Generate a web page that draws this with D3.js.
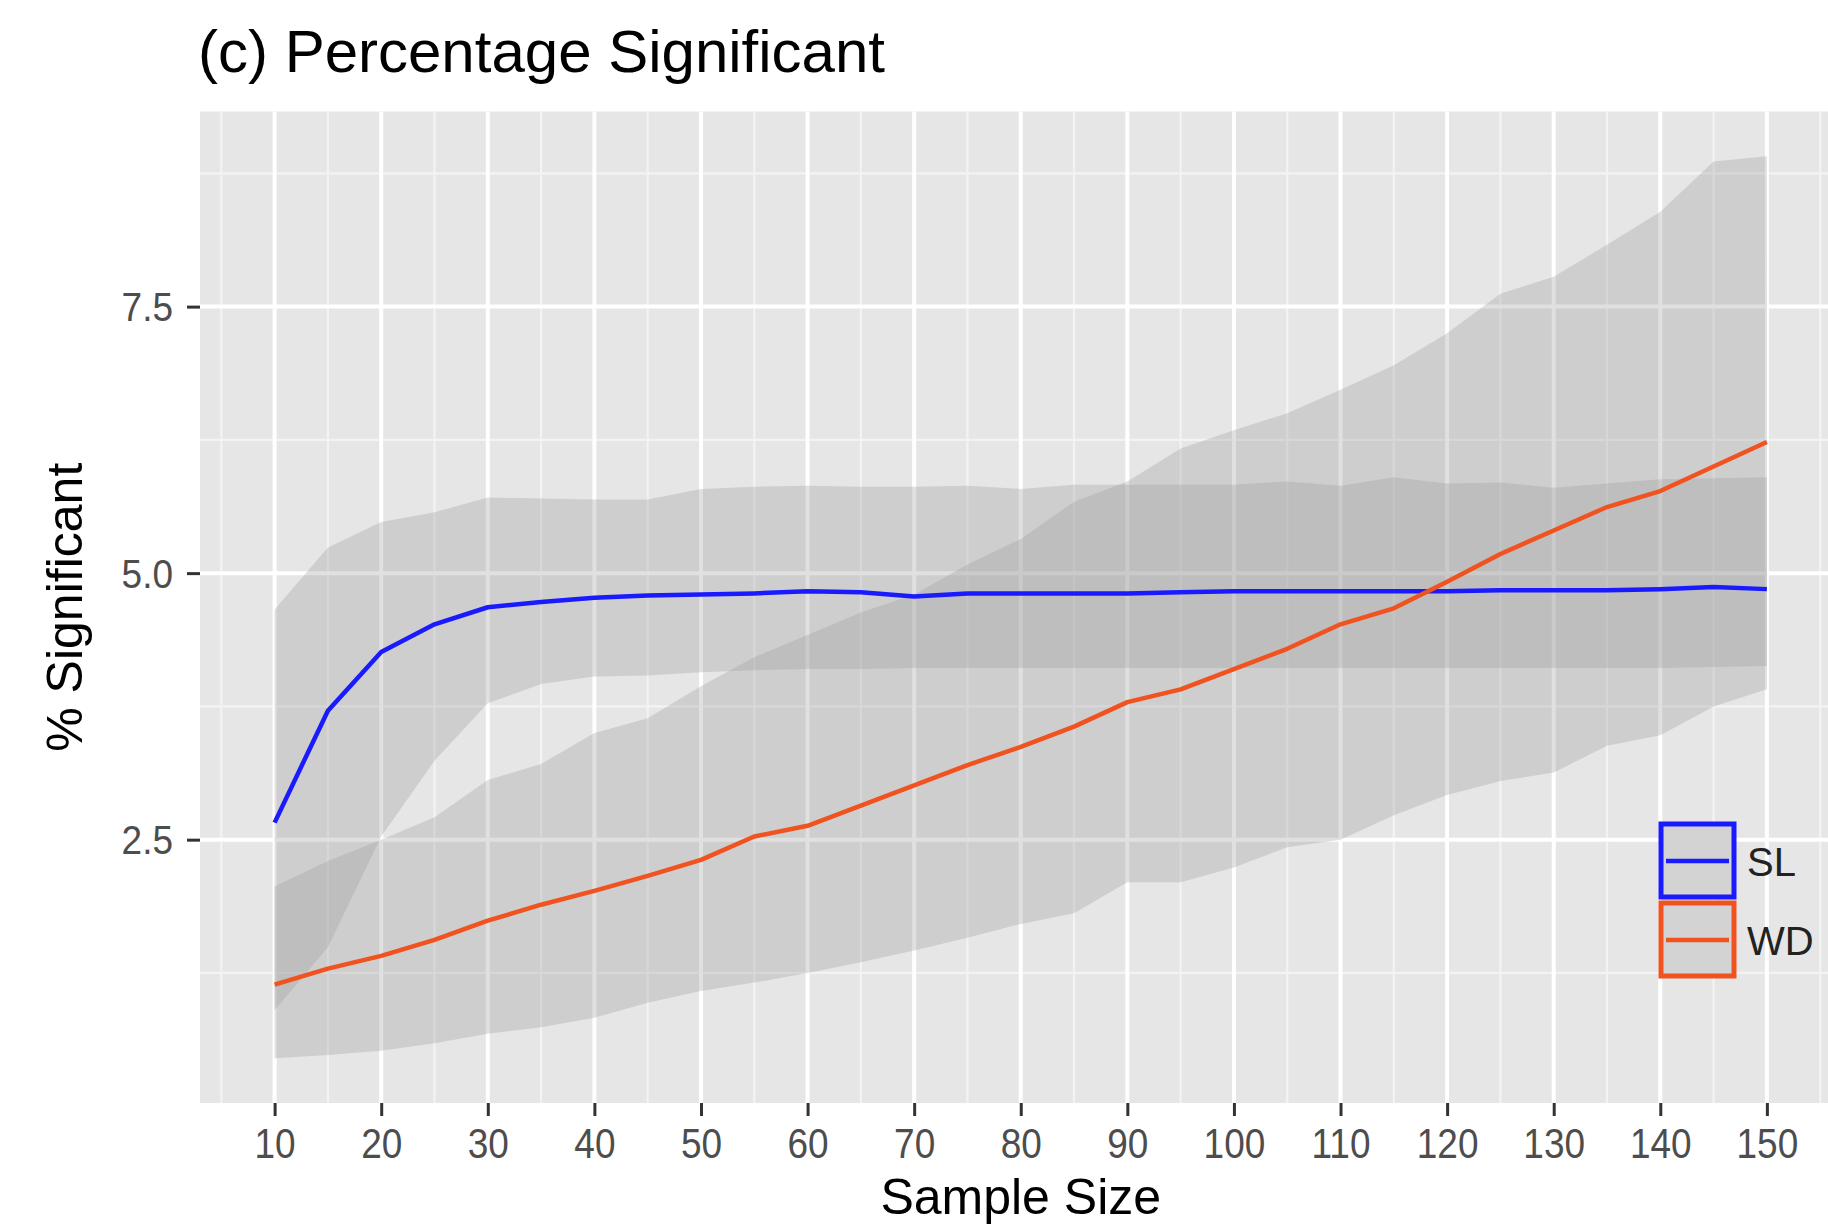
<!DOCTYPE html>
<html>
<head>
<meta charset="utf-8">
<script src="https://cdn.jsdelivr.net/npm/d3@7"></script>
<style>
  body { margin: 0; background: #fff; }
  svg { display: block; font-family: "Liberation Sans", Arial, Helvetica, sans-serif; }
</style>
</head>
<body>
<svg id="chart" width="1828" height="1228"></svg>
<script>
// sample sizes on the x axis
const sampleSize = [10, 15, 20, 25, 30, 35, 40, 45, 50, 55, 60, 65, 70, 75, 80,
  85, 90, 95, 100, 105, 110, 115, 120, 125, 130, 135, 140, 145, 150];

// SL: mean % significant and its band
const slMean = [2.66, 3.71, 4.26, 4.52, 4.68, 4.73, 4.77, 4.79, 4.80, 4.81, 4.83, 4.82, 4.78, 4.81, 4.81,
  4.81, 4.81, 4.82, 4.83, 4.83, 4.83, 4.83, 4.83, 4.84, 4.84, 4.84, 4.85, 4.87, 4.85];
const slLow = [0.90, 1.49, 2.53, 3.24, 3.78, 3.96, 4.03, 4.04, 4.07, 4.09, 4.10, 4.10, 4.11, 4.11, 4.11,
  4.11, 4.11, 4.11, 4.11, 4.11, 4.11, 4.11, 4.11, 4.11, 4.11, 4.11, 4.11, 4.12, 4.13];
const slHigh = [4.66, 5.24, 5.48, 5.57, 5.71, 5.70, 5.69, 5.69, 5.79, 5.81, 5.82, 5.81, 5.81, 5.82, 5.79,
  5.83, 5.83, 5.83, 5.83, 5.86, 5.82, 5.90, 5.84, 5.85, 5.80, 5.84, 5.88, 5.89, 5.90];

// WD: mean % significant and its band
const wdMean = [1.14, 1.29, 1.41, 1.56, 1.74, 1.89, 2.02, 2.16, 2.31, 2.53, 2.63, 2.82, 3.01, 3.20, 3.37,
  3.56, 3.79, 3.91, 4.10, 4.29, 4.52, 4.67, 4.92, 5.18, 5.40, 5.62, 5.77, 6.00, 6.23];
const wdLow = [0.45, 0.48, 0.52, 0.59, 0.68, 0.74, 0.83, 0.97, 1.08, 1.16, 1.25, 1.35, 1.46, 1.58, 1.71,
  1.81, 2.10, 2.10, 2.24, 2.43, 2.50, 2.73, 2.92, 3.05, 3.13, 3.38, 3.48, 3.75, 3.91];
const wdHigh = [2.06, 2.30, 2.50, 2.71, 3.06, 3.21, 3.50, 3.64, 3.94, 4.21, 4.42, 4.63, 4.80, 5.08, 5.32,
  5.67, 5.86, 6.17, 6.34, 6.50, 6.72, 6.95, 7.25, 7.62, 7.78, 8.08, 8.39, 8.86, 8.91];

const seriesNames = ["SL", "WD"];
const seriesColors = ["#1a1aff", "#f0531f"];

const xTicks = [10, 20, 30, 40, 50, 60, 70, 80, 90, 100, 110, 120, 130, 140, 150];
const xMinor = [5, 15, 25, 35, 45, 55, 65, 75, 85, 95, 105, 115, 125, 135, 145, 155];
const yTicks = [2.5, 5.0, 7.5];
const yMinor = [1.25, 3.75, 6.25, 8.75];
const xDomain = [3, 157];
const yDomain = [0.03, 9.33];

const svg = d3.select("#chart");
const panel = { left: 200, right: 1841.5, top: 111.5, bottom: 1103 };

const x = d3.scaleLinear().domain(xDomain).range([panel.left, panel.right]);
const y = d3.scaleLinear().domain(yDomain).range([panel.bottom, panel.top]);

svg.append("clipPath").attr("id", "clip")
  .append("rect")
  .attr("x", panel.left).attr("y", panel.top)
  .attr("width", panel.right - panel.left).attr("height", panel.bottom - panel.top);

// panel background
svg.append("rect")
  .attr("x", panel.left).attr("y", panel.top)
  .attr("width", panel.right - panel.left).attr("height", panel.bottom - panel.top)
  .attr("fill", "#e6e6e6");

const grid = svg.append("g");
grid.selectAll(".xmin").data(xMinor).join("line")
  .attr("x1", d => x(d)).attr("x2", d => x(d))
  .attr("y1", panel.top).attr("y2", panel.bottom)
  .attr("stroke", "#f3f3f3").attr("stroke-width", 2.2);
grid.selectAll(".ymin").data(yMinor).join("line")
  .attr("y1", d => y(d)).attr("y2", d => y(d))
  .attr("x1", panel.left).attr("x2", panel.right)
  .attr("stroke", "#f3f3f3").attr("stroke-width", 2.2);
grid.selectAll(".xmaj").data(xTicks).join("line")
  .attr("x1", d => x(d)).attr("x2", d => x(d))
  .attr("y1", panel.top).attr("y2", panel.bottom)
  .attr("stroke", "#fff").attr("stroke-width", 4);
grid.selectAll(".ymaj").data(yTicks).join("line")
  .attr("y1", d => y(d)).attr("y2", d => y(d))
  .attr("x1", panel.left).attr("x2", panel.right)
  .attr("stroke", "#fff").attr("stroke-width", 4);

const series = [
  { mean: slMean, low: slLow, high: slHigh },
  { mean: wdMean, low: wdLow, high: wdHigh }
].map((s, k) => ({
  name: seriesNames[k],
  color: seriesColors[k],
  rows: sampleSize.map((n, i) => ({ n, m: s.mean[i], lo: s.low[i], hi: s.high[i] }))
}));

const plot = svg.append("g").attr("clip-path", "url(#clip)");

const area = d3.area()
  .x(d => x(d.n))
  .y0(d => y(d.lo))
  .y1(d => y(d.hi));
const line = d3.line()
  .x(d => x(d.n))
  .y(d => y(d.m));

plot.selectAll(".band").data(series).join("path")
  .attr("d", d => area(d.rows))
  .attr("fill", "#999")
  .attr("fill-opacity", 0.3);

plot.selectAll(".mean").data(series).join("path")
  .attr("d", d => line(d.rows))
  .attr("fill", "none")
  .attr("stroke", d => d.color)
  .attr("stroke-width", 4.5)
  .attr("stroke-linejoin", "round");

// axes
const xAxis = svg.append("g")
  .attr("transform", `translate(0,${panel.bottom})`)
  .call(d3.axisBottom(x).tickValues(xTicks).tickSize(13).tickFormat(d3.format("d")));
const yAxis = svg.append("g")
  .attr("transform", `translate(${panel.left},0)`)
  .call(d3.axisLeft(y).tickValues(yTicks).tickSize(13).tickFormat(d3.format(".1f")));

[xAxis, yAxis].forEach(a => {
  a.select(".domain").remove();
  a.selectAll(".tick line").attr("stroke", "#333").attr("stroke-width", 3);
  a.selectAll(".tick text").attr("fill", "#4d4d4d").attr("font-size", 37)
    .attr("font-family", "\"Liberation Sans\", Arial, sans-serif")
    .attr("dy", null).attr("x", 0).attr("y", 0);
});
xAxis.selectAll(".tick text")
  .attr("text-anchor", "middle")
  .attr("transform", "translate(0,55) scale(1,1.15)");
yAxis.selectAll(".tick text")
  .attr("text-anchor", "end")
  .attr("transform", "translate(-27,14) scale(1,1.1)");

// titles
svg.append("text")
  .attr("x", 198).attr("y", 72)
  .attr("font-size", 60).attr("fill", "#000")
  .text("(c) Percentage Significant");

svg.append("text")
  .attr("x", (panel.left + panel.right) / 2).attr("y", 1214)
  .attr("text-anchor", "middle")
  .attr("font-size", 50).attr("fill", "#000")
  .text("Sample Size");

svg.append("text")
  .attr("transform", `translate(82,${(panel.top + panel.bottom) / 2}) rotate(-90)`)
  .attr("text-anchor", "middle")
  .attr("font-size", 50).attr("fill", "#000")
  .text("% Significant");

// legend inside the panel
const legend = svg.append("g").attr("transform", "translate(1659,822)");
const key = legend.selectAll("g").data(series).join("g")
  .attr("transform", (d, i) => `translate(0,${i * 79})`);
key.append("rect")
  .attr("x", 2).attr("y", 2).attr("width", 73).attr("height", 73)
  .attr("fill", "#d3d3d3")
  .attr("stroke", d => d.color).attr("stroke-width", 5);
key.append("line")
  .attr("x1", 7).attr("x2", 70).attr("y1", 39).attr("y2", 39)
  .attr("stroke", d => d.color).attr("stroke-width", 4.5);
key.append("text")
  .attr("x", 88).attr("y", 54)
  .attr("font-size", 40).attr("fill", "#222")
  .text(d => d.name);
</script>
</body>
</html>
